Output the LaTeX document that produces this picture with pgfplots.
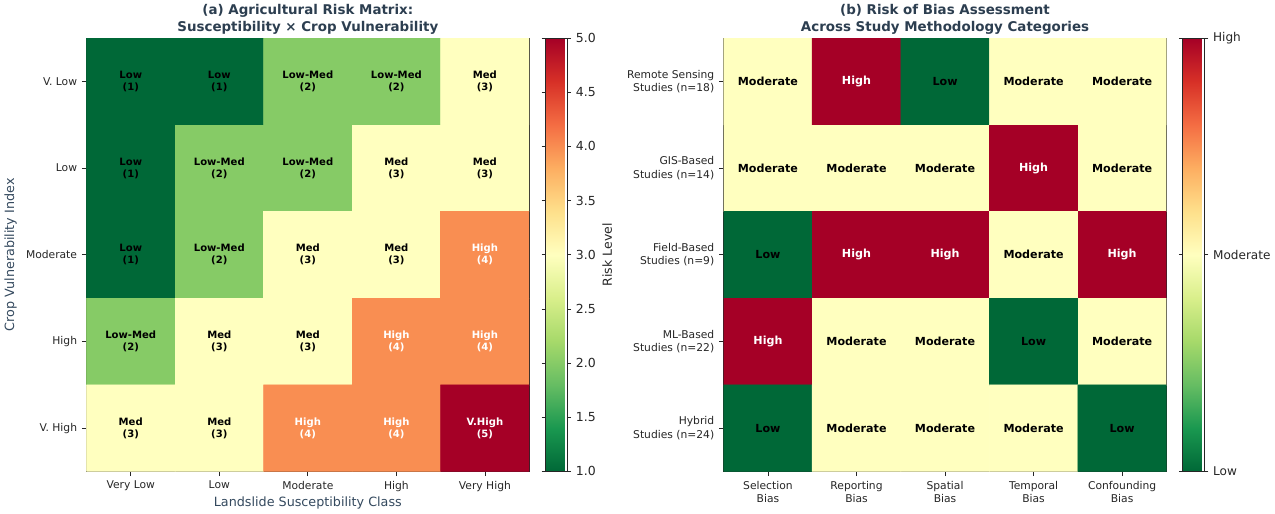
\documentclass[border=0pt]{standalone}
\usepackage{fontspec}
\setmainfont{DejaVu Sans}
\usepackage{pgfplots}
\usepackage{pgfplotstable}
\pgfplotsset{compat=1.18}

\definecolor{titlecol}{HTML}{2C3E50}
\definecolor{labelcol}{HTML}{34495E}

% white text on the darker red/orange cells, black elsewhere
\newcommand\cellink[2]{\ifdim#1pt>#2pt\color{white}\else\color{black}\fi}

% reversed red-yellow-green diverging map (green = low, red = high)
\pgfplotsset{
  colormap={rdylgnr}{rgb255=(0,104,55) rgb255=(26,152,80) rgb255=(102,189,99)
    rgb255=(166,217,106) rgb255=(217,239,139) rgb255=(255,255,191)
    rgb255=(254,224,139) rgb255=(253,174,97) rgb255=(244,109,67)
    rgb255=(215,48,39) rgb255=(165,0,38)},
  heat/.style={
    scale only axis, width=330pt, height=323pt,
    xmin=-0.5, xmax=4.5, ymin=-0.5, ymax=4.5, y dir=reverse,
    xtick={0,...,4}, ytick={0,...,4},
    tick align=outside, xtick pos=lower, ytick pos=left,
    major tick length=3.5pt,
    tick style={black!85, line width=0.6pt},
    axis line style={black!85, line width=0.6pt},
    ticklabel style={font=\fontsize{8}{10}\selectfont, text=black!85},
    /pgf/number format/assume math mode=true,
    colormap name=rdylgnr,
    colorbar,
    colorbar shift/.style={xshift=12pt},
    title style={font=\bfseries\fontsize{10}{12.3}\selectfont, text=titlecol,
      align=center, yshift=-6.5pt},
    label style={font=\fontsize{9.5}{11}\selectfont, text=labelcol},
    xlabel style={yshift=3pt},
  },
  cbar/.style={
    width=16pt,
    tick align=outside, major tick length=3pt,
    tick style={black!85, line width=0.6pt},
    axis line style={black!85, line width=0.6pt},
    ticklabel style={font=\fontsize{9.3}{11}\selectfont, text=black!85},
    /pgf/number format/assume math mode=true,
  },
}

% risk matrix: susceptibility class (x) by crop vulnerability (y)
\pgfplotstableread{
x y v lab
0 0 1 Low
1 0 1 Low
2 0 2 Low-Med
3 0 2 Low-Med
4 0 3 Med
0 1 1 Low
1 1 2 Low-Med
2 1 2 Low-Med
3 1 3 Med
4 1 3 Med
0 2 1 Low
1 2 2 Low-Med
2 2 3 Med
3 2 3 Med
4 2 4 High
0 3 2 Low-Med
1 3 3 Med
2 3 3 Med
3 3 4 High
4 3 4 High
0 4 3 Med
1 4 3 Med
2 4 4 High
3 4 4 High
4 4 5 V.High
}\riskdata

% risk of bias: 1 = Low, 2 = Moderate, 3 = High
\pgfplotstableread{
x y v lab
0 0 2 Moderate
1 0 3 High
2 0 1 Low
3 0 2 Moderate
4 0 2 Moderate
0 1 2 Moderate
1 1 2 Moderate
2 1 2 Moderate
3 1 3 High
4 1 2 Moderate
0 2 1 Low
1 2 3 High
2 2 3 High
3 2 2 Moderate
4 2 3 High
0 3 3 High
1 3 2 Moderate
2 3 2 Moderate
3 3 1 Low
4 3 2 Moderate
0 4 1 Low
1 4 2 Moderate
2 4 2 Moderate
3 4 2 Moderate
4 4 1 Low
}\biasdata

\begin{document}
\begin{tikzpicture}
\begin{axis}[heat,
  title={(a) Agricultural Risk Matrix:\\Susceptibility × Crop Vulnerability},
  xlabel={Landslide Susceptibility Class},
  ylabel={Crop Vulnerability Index},
  xticklabels={Very Low, Low, Moderate, High, Very High},
  yticklabels={V. Low, Low, Moderate, High, V. High},
  point meta min=1, point meta max=5,
  colorbar style={cbar,
    ytick={1,1.5,...,5},
    yticklabel style={/pgf/number format/.cd, fixed, fixed zerofill, precision=1},
    ylabel={Risk Level},
    ylabel style={font=\fontsize{9.3}{11}\selectfont, text=black!85, yshift=2pt},
  },
]
\addplot[matrix plot*, mesh/cols=5, mesh/rows=5, point meta=explicit]
  table[x=x, y=y, meta=v] {\riskdata};
\addplot[draw=none, mark=none, point meta=explicit symbolic,
  visualization depends on={\thisrow{v}\as\cellv},
  nodes near coords={\cellink{\cellv}{3.5}\pgfplotspointmeta\\\cellink{\cellv}{3.5}(\pgfmathprintnumber[fixed, precision=0]{\cellv})},
  every node near coord/.append style={anchor=center, align=center,
    font=\bfseries\fontsize{7.5}{9}\selectfont}]
  table[x=x, y=y, meta=lab] {\riskdata};
\end{axis}

\begin{axis}[heat, xshift=475pt,
  title={(b) Risk of Bias Assessment\\Across Study Methodology Categories},
  xticklabels={{Selection\\Bias}, {Reporting\\Bias}, {Spatial\\Bias}, {Temporal\\Bias}, {Confounding\\Bias}},
  yticklabels={{Remote Sensing\\Studies (n=18)}, {GIS-Based\\Studies (n=14)}, {Field-Based\\Studies (n=9)}, {ML-Based\\Studies (n=22)}, {Hybrid\\Studies (n=24)}},
  xticklabel style={align=center},
  yticklabel style={align=right},
  point meta min=1, point meta max=3,
  colorbar style={cbar,
    ytick={1,2,3},
    yticklabels={Low, Moderate, High},
    ticklabel style={font=\fontsize{9}{11}\selectfont},
  },
]
\addplot[matrix plot*, mesh/cols=5, mesh/rows=5, point meta=explicit]
  table[x=x, y=y, meta=v] {\biasdata};
\addplot[draw=none, mark=none, point meta=explicit symbolic,
  visualization depends on={\thisrow{v}\as\cellv},
  nodes near coords={\cellink{\cellv}{2.5}\pgfplotspointmeta},
  every node near coord/.append style={anchor=center,
    font=\bfseries\fontsize{8.3}{9}\selectfont}]
  table[x=x, y=y, meta=lab] {\biasdata};
\end{axis}
\end{tikzpicture}
\end{document}
